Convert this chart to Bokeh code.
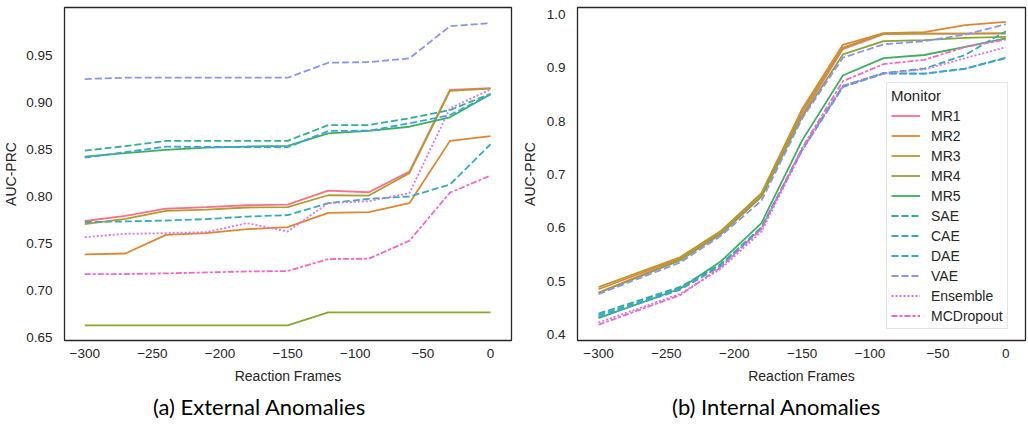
from bokeh.plotting import figure
from bokeh.layouts import row, column
from bokeh.models import FixedTicker, Range1d, Legend, LegendItem, NumeralTickFormatter
from bokeh.core.properties import value
from bokeh.embed import file_html
from bokeh.resources import INLINE

# ---------------- data ----------------
monitors = ["MR1", "MR2", "MR3", "MR4", "MR5", "SAE", "CAE", "DAE", "VAE", "Ensemble", "MCDropout"]

# (a) External anomalies
frames_ext = [-300, -270, -240, -210, -180, -150, -120, -90, -60, -30, 0]
ext_mr1 = [0.774, 0.7795, 0.787, 0.7886, 0.7907, 0.7914, 0.8063, 0.8045, 0.8264, 0.913, 0.915]
ext_mr2 = [0.7385, 0.7395, 0.7593, 0.7611, 0.7653, 0.7675, 0.7826, 0.7834, 0.7929, 0.859, 0.864]
ext_mr3 = [0.7707, 0.7763, 0.7847, 0.786, 0.7883, 0.7886, 0.8013, 0.801, 0.8247, 0.912, 0.9145]
ext_mr4 = [0.6633, 0.6633, 0.6633, 0.6633, 0.6633, 0.6633, 0.677, 0.677, 0.677, 0.677, 0.677]
ext_mr5 = [0.8423, 0.8459, 0.8494, 0.8519, 0.853, 0.8536, 0.867, 0.8695, 0.874, 0.884, 0.9084]
ext_sae = [0.8486, 0.8535, 0.8589, 0.859, 0.859, 0.859, 0.8758, 0.8758, 0.883, 0.8917, 0.909]
ext_cae = [0.7728, 0.7735, 0.7745, 0.776, 0.7787, 0.7802, 0.7929, 0.7975, 0.80, 0.8126, 0.8554]
ext_dae = [0.8412, 0.847, 0.8529, 0.8525, 0.8525, 0.8522, 0.8695, 0.8698, 0.8776, 0.8864, 0.9084]
ext_vae = [0.9246, 0.926, 0.926, 0.926, 0.926, 0.926, 0.9419, 0.9426, 0.9465, 0.9807, 0.9839]
ext_ens = [0.7569, 0.7604, 0.7611, 0.7622, 0.7717, 0.7628, 0.793, 0.795, 0.8035, 0.8935, 0.9136]
ext_mcd = [0.7177, 0.7177, 0.7184, 0.7194, 0.7205, 0.7209, 0.7336, 0.734, 0.753, 0.8041, 0.8222]

# (b) Internal anomalies
frames_int = [-300, -240, -210, -180, -150, -120, -90, -60, -30, 0]
int_mr1 = [0.479, 0.541, 0.590, 0.660, 0.812, 0.935, 0.963, 0.964, 0.964, 0.965]
int_mr2 = [0.485, 0.543, 0.593, 0.665, 0.823, 0.943, 0.965, 0.967, 0.980, 0.986]
int_mr3 = [0.489, 0.545, 0.594, 0.664, 0.818, 0.938, 0.964, 0.964, 0.964, 0.964]
int_mr4 = [0.478, 0.539, 0.588, 0.658, 0.808, 0.925, 0.950, 0.952, 0.956, 0.958]
int_mr5 = [0.431, 0.486, 0.537, 0.609, 0.764, 0.8855, 0.918, 0.924, 0.939, 0.955]
int_sae = [0.4394, 0.4893, 0.532, 0.601, 0.748, 0.866, 0.890, 0.889, 0.8985, 0.919]
int_cae = [0.436, 0.487, 0.531, 0.600, 0.747, 0.865, 0.890, 0.8985, 0.924, 0.9686]
int_dae = [0.433, 0.484, 0.528, 0.599, 0.746, 0.864, 0.889, 0.889, 0.898, 0.918]
int_vae = [0.476, 0.535, 0.585, 0.651, 0.805, 0.919, 0.944, 0.950, 0.962, 0.9815]
int_ens = [0.4228, 0.4763, 0.5232, 0.593, 0.745, 0.866, 0.890, 0.897, 0.918, 0.9385]
int_mcd = [0.4185, 0.474, 0.526, 0.598, 0.750, 0.875, 0.907, 0.915, 0.939, 0.953]

x_ticks = [-300, -250, -200, -150, -100, -50, 0]
x_tick_labels = ["\u2212300", "\u2212250", "\u2212200", "\u2212150", "\u2212100", "\u221250", "0"]
y_ticks_ext = [0.65, 0.70, 0.75, 0.80, 0.85, 0.90, 0.95]
y_ticks_int = [0.4, 0.5, 0.6, 0.7, 0.8, 0.9, 1.0]
captions = ["(a) External Anomalies", "(b) Internal Anomalies"]

ext_series = [ext_mr1, ext_mr2, ext_mr3, ext_mr4, ext_mr5, ext_sae, ext_cae, ext_dae, ext_vae, ext_ens, ext_mcd]
int_series = [int_mr1, int_mr2, int_mr3, int_mr4, int_mr5, int_sae, int_cae, int_dae, int_vae, int_ens, int_mcd]

# ---------------- style ----------------
colors = ["#f77189", "#e08632", "#b49b31", "#88a731", "#3cb05e", "#34ae91",
          "#37abb4", "#3ba3de", "#8c93f4", "#d675f4", "#f566c6"]
DASH = "7 3"
dashes = ["solid"] * 5 + [DASH] * 4 + ["2 2", "6 2 3 2"]
TXT = "#262626"
FONT = "Liberation Sans"
MAIN_H = 392


def make_fig(width, bl, br, bt, bb, xr, yr, yticks, yfmt, ylab_standoff):
    p = figure(width=width, height=MAIN_H, output_backend="svg", toolbar_location=None,
               x_range=Range1d(*xr), y_range=Range1d(*yr),
               min_border_left=bl, min_border_right=br, min_border_top=bt, min_border_bottom=bb)
    p.background_fill_color = "white"
    p.border_fill_color = "white"
    p.outline_line_color = TXT
    p.outline_line_width = 1.3
    p.grid.visible = False
    p.xaxis.ticker = FixedTicker(ticks=x_ticks)
    p.xaxis.major_label_overrides = {t: l for t, l in zip(x_ticks, x_tick_labels)}
    p.yaxis.ticker = FixedTicker(ticks=yticks)
    p.yaxis.formatter = NumeralTickFormatter(format=yfmt)
    for ax in p.axis:
        ax.axis_line_color = None
        ax.major_tick_line_color = None
        ax.minor_tick_line_color = None
        ax.major_tick_out = 0
        ax.major_tick_in = 0
        ax.minor_tick_out = 0
        ax.minor_tick_in = 0
        ax.major_label_text_font = FONT
        ax.major_label_text_font_size = "13.5px"
        ax.major_label_text_color = TXT
        ax.axis_label_text_font = FONT
        ax.axis_label_text_font_size = "14px"
        ax.axis_label_text_font_style = "normal"
        ax.axis_label_text_color = TXT
    p.xaxis.axis_label = "Reaction Frames"
    p.yaxis.axis_label = "AUC-PRC"
    p.xaxis.major_label_standoff = 8
    p.xaxis.axis_label_standoff = 7
    p.yaxis.major_label_standoff = 12
    p.yaxis.axis_label_standoff = ylab_standoff
    return p


def make_caption(width, text, cx):
    c = figure(width=width, height=427 - MAIN_H, output_backend="svg", toolbar_location=None,
               x_range=Range1d(0, width), y_range=Range1d(0, 427 - MAIN_H),
               x_axis_location=None, y_axis_location=None, min_border=0)
    c.grid.visible = False
    c.outline_line_color = None
    c.background_fill_color = "white"
    c.border_fill_color = "white"
    c.text(x=[cx], y=[21], text=[text], text_align="center", text_baseline="middle",
           text_font=value("Lato"), text_font_size="22px", text_color="black")
    return c


p1 = make_fig(518, 64, 7, 7, MAIN_H - 7 - 334, (-315, 15.5), (0.6472, 1.0005), y_ticks_ext, "0.00", 4)
for ys, c, d in zip(ext_series, colors, dashes):
    p1.line(frames_ext, ys, line_color=c, line_width=1.8, line_dash=d)

p2 = make_fig(510, 55, 3, 2, MAIN_H - 2 - 338, (-315.5, 14.5), (0.389, 1.013), y_ticks_int, "0.0", 6)
items = []
for m, ys, c, d in zip(monitors, int_series, colors, dashes):
    r = p2.line(frames_int, ys, line_color=c, line_width=1.8, line_dash=d)
    items.append(LegendItem(label=m, renderers=[r]))

legend = Legend(items=items, location=(309, 11), title="Monitor",
                title_text_font=FONT, title_text_font_size="15px", title_text_font_style="normal",
                title_text_color=TXT, title_standoff=3,
                label_text_font=FONT, label_text_font_size="14px", label_text_color=TXT,
                glyph_width=29, glyph_height=17, label_height=17, spacing=3, padding=4,
                label_standoff=11, border_line_color="#cccccc", border_line_width=1,
                background_fill_alpha=0.8, margin=0)
p2.add_layout(legend)

c1 = make_caption(518, captions[0], 259)
c2 = make_caption(510, captions[1], 258)

layout = column(row(p1, p2), row(c1, c2))
open("out.html", "w").write(file_html(layout, INLINE))
